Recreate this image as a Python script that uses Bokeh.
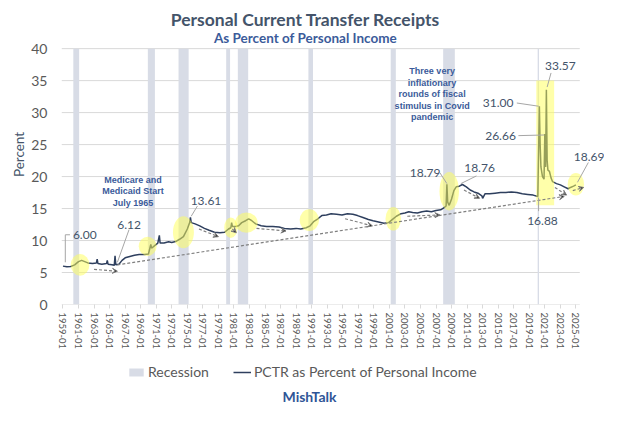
from bokeh.plotting import figure
from bokeh.models import Range1d, FixedTicker, Label, Arrow, VeeHead, Legend, LegendItem, Spacer
from bokeh.layouts import column, row
from bokeh.embed import file_html
from bokeh.resources import INLINE

# ---------------- data ----------------
dates = [1959.0, 1959.5, 1960.0, 1960.5, 1961.0, 1961.4, 1961.8, 1962.2, 1962.8, 1963.3,
         1963.4, 1963.5, 1964.0, 1964.6, 1964.7, 1964.8, 1965.3, 1965.6, 1965.7, 1965.8,
         1966.2, 1966.6, 1967.0, 1967.6, 1968.2, 1968.8, 1969.5, 1970.0, 1970.3, 1970.4,
         1970.8, 1971.2, 1971.4, 1971.5, 1972.0, 1972.6, 1973.0, 1973.6, 1974.0, 1974.5,
         1975.0, 1975.3, 1975.4, 1975.5, 1976.0, 1976.6, 1977.2, 1977.8, 1978.5, 1979.2,
         1979.8, 1980.3, 1980.6, 1980.7, 1980.8, 1981.2, 1981.6, 1982.0, 1982.5, 1982.9,
         1983.3, 1983.8, 1984.5, 1985.2, 1986.0, 1986.8, 1987.5, 1988.3, 1989.0, 1989.6,
         1990.3, 1990.8, 1991.3, 1991.8, 1992.3, 1992.9, 1993.5, 1994.2, 1994.9, 1995.6,
         1996.3, 1996.9, 1997.6, 1998.3, 1998.9, 1999.6, 2000.3, 2000.9, 2001.4, 2001.9,
         2002.5, 2003.0, 2003.5, 2004.0, 2004.6, 2005.2, 2005.8, 2006.4, 2007.0, 2007.6,
         2008.0, 2008.3, 2008.4, 2008.5, 2008.7, 2009.0, 2009.3, 2009.6, 2010.0, 2010.4,
         2010.9, 2011.4, 2011.9, 2012.4, 2012.9, 2013.0, 2013.3, 2013.9, 2014.6, 2015.3,
         2016.0, 2016.7, 2017.4, 2018.1, 2018.8, 2019.5, 2020.1, 2020.3, 2020.4, 2020.5,
         2020.7, 2020.9, 2021.0, 2021.1, 2021.2, 2021.3, 2021.4, 2021.6, 2021.8, 2022.0,
         2022.5, 2023.0, 2023.5, 2024.0, 2024.3, 2024.7, 2025.0]
pctr = [6.00, 5.90, 5.95, 6.20, 6.70, 6.90, 6.70, 6.50, 6.40, 6.50,
        7.10, 6.40, 6.30, 6.40, 6.90, 6.30, 6.20, 6.12, 7.60, 6.20,
        6.30, 6.90, 7.30, 7.50, 7.70, 7.80, 7.80, 7.90, 9.40, 8.80,
        9.20, 9.60, 10.80, 9.60, 9.60, 9.80, 9.70, 9.90, 10.20, 10.60,
        11.80, 12.80, 13.61, 12.80, 12.60, 12.30, 11.90, 11.60, 11.30, 11.20,
        11.30, 11.80, 12.00, 12.80, 12.20, 12.20, 12.30, 12.80, 13.10, 13.40,
        13.10, 12.60, 12.30, 12.20, 12.20, 12.10, 11.90, 11.80, 11.90, 11.80,
        12.00, 12.30, 13.00, 13.40, 13.90, 14.00, 14.20, 14.10, 14.00, 14.20,
        14.10, 13.90, 13.60, 13.30, 13.10, 12.90, 12.70, 12.80, 13.30, 13.80,
        14.20, 14.30, 14.50, 14.40, 14.30, 14.50, 14.60, 14.50, 14.70, 14.80,
        15.10, 15.40, 18.79, 16.00, 15.50, 16.50, 17.80, 18.40, 18.50, 18.76,
        18.40, 17.90, 17.60, 17.40, 17.00, 16.60, 17.30, 17.30, 17.40, 17.50,
        17.50, 17.60, 17.50, 17.30, 17.20, 17.10, 16.88, 31.00, 25.00, 21.50,
        20.00, 19.60, 26.66, 21.50, 33.57, 22.50, 21.00, 20.80, 19.80, 19.20,
        18.90, 18.70, 18.40, 18.10, 18.30, 18.50, 18.69]

rec_start = [1960.33, 1969.92, 1973.87, 1980.00, 1981.50, 1990.58, 2001.17, 2007.92, 2020.08]
rec_end = [1961.08, 1970.83, 1975.17, 1980.50, 1982.83, 1991.17, 2001.83, 2009.42, 2020.25]

tick_years = list(range(1959, 2026, 2))
tick_labels = [f"{y}-01" for y in tick_years]
y_ticks = [0, 5, 10, 15, 20, 25, 30, 35, 40]

# value call-outs: text, label position, leader line start/end
ann_text = ["6.00", "6.12", "13.61", "18.79", "18.76", "16.88", "26.66", "31.00", "33.57", "18.69"]
ann_tx = [1961.8, 1967.5, 1977.4, 2005.6, 2012.6, 2020.7, 2015.3, 2015.0, 2023.0, 2026.7]
ann_ty = [10.9, 12.4, 16.2, 20.6, 21.4, 13.1, 26.3, 31.5, 37.3, 23.1]
lead_x0 = [1959.3, 1967.5, 1976.3, 2007.5, 2012.2, 2020.2, 2017.6, 2017.4, 2021.8, 2026.6]
lead_y0 = [10.9, 11.7, 15.4, 20.6, 20.1, 14.6, 26.4, 31.5, 36.2, 22.2]
lead_x1 = [1959.3, 1966.0, 1975.5, 2008.4, 2010.2, 2020.2, 2020.9, 2020.2, 2021.3, 2025.2]
lead_y1 = [6.6, 6.6, 13.8, 18.9, 18.9, 16.7, 26.5, 31.0, 34.0, 19.1]

# dashed trend arrows
arr_x0 = [1966.0, 1963.0, 1976.5, 1980.8, 1983.9, 1995.3, 2003.3, 2010.6, 2022.3, 2024.6]
arr_y0 = [6.2, 5.5, 11.8, 11.8, 11.9, 13.4, 13.8, 17.9, 18.3, 17.8]
arr_x1 = [2023.5, 1966.0, 1979.0, 1981.3, 1987.7, 1998.8, 2007.5, 2012.6, 2023.8, 2026.0]
arr_y1 = [16.9, 5.2, 10.6, 11.2, 11.5, 12.3, 14.0, 16.6, 17.1, 18.3]

# yellow highlight blobs
hl_x = [1961.2, 1969.9, 1974.5, 1980.6, 1982.6, 1990.7, 2001.5, 2008.7, 2025.0]
hl_y = [6.2, 9.1, 11.3, 12.0, 12.8, 13.2, 13.4, 17.7, 18.8]
hl_w = [2.4, 2.3, 2.7, 1.7, 2.9, 2.5, 2.0, 2.5, 2.1]
hl_h = [3.4, 3.0, 5.0, 3.2, 3.2, 3.4, 3.7, 6.0, 3.5]
covid_box = [2019.9, 2022.2, 15.5, 35.0]

X_START, X_END, GRID_END = 1958.81, 2028.68, 2025.5

NAVY = "#2e3f5e"
TXT = "#44546a"
BLUE = "#3b5b9a"
GREY = "#595959"

p = figure(width=596, height=356, output_backend="svg", toolbar_location=None,
           x_range=Range1d(X_START, X_END), y_range=Range1d(0, 46.9),
           min_border_left=44, min_border_right=0, min_border_top=4, min_border_bottom=52,
           outline_line_color=None, background_fill_color="white", border_fill_color="white")
p.frame_align = False

# horizontal gridlines (ending at the last month, like the original)
p.segment(x0=[X_START] * len(y_ticks), x1=[GRID_END] * len(y_ticks), y0=y_ticks, y1=y_ticks,
          line_color="#d9d9d9", line_width=1)

rec = p.quad(left=rec_start, right=rec_end, bottom=0, top=40,
             fill_color="#d8dce6", line_color=None)
ln = p.line(dates, pctr, line_color=NAVY, line_width=1.5)

p.ellipse(x=hl_x, y=hl_y, width=hl_w, height=hl_h, fill_color="#ffff55",
          fill_alpha=0.5, line_color=None)
p.quad(left=[covid_box[0]], right=[covid_box[1]], bottom=[covid_box[2]], top=[covid_box[3]],
       fill_color="#ffff55", fill_alpha=0.5, line_color=None)

for i in range(len(arr_x0)):
    p.add_layout(Arrow(end=VeeHead(size=5, line_color="#7f7f7f", line_width=1),
                       x_start=arr_x0[i], y_start=arr_y0[i], x_end=arr_x1[i], y_end=arr_y1[i],
                       line_color="#7f7f7f", line_width=1.2, line_dash="3 2"))

for i in range(len(ann_text)):
    p.add_layout(Arrow(end=None, x_start=lead_x0[i], y_start=lead_y0[i],
                       x_end=lead_x1[i], y_end=lead_y1[i], line_color="#a6a6a6", line_width=1))
    p.add_layout(Label(x=ann_tx[i], y=ann_ty[i], text=ann_text[i], text_font="Lato",
                       text_font_size="12px", text_color=TXT, text_align="center",
                       text_baseline="middle"))
p.add_layout(Arrow(end=None, x_start=1959.9, y_start=10.9, x_end=1959.3, y_end=10.9,
                   line_color="#a6a6a6", line_width=1))

for txt, yy in zip(["Medicare and", "Medicaid Start", "July 1965"], [19.5, 17.7, 15.9]):
    p.add_layout(Label(x=1968.0, y=yy, text=txt, text_font="Liberation Sans",
                       text_font_style="bold", text_font_size="9px", text_color=BLUE,
                       text_align="center", text_baseline="middle"))
for txt, yy in zip(["Three very", "inflationary", "rounds of fiscal", "stimulus in Covid", "pandemic"],
                   [36.5, 34.7, 32.9, 31.1, 29.3]):
    p.add_layout(Label(x=2006.5, y=yy, text=txt, text_font="Liberation Sans",
                       text_font_style="bold", text_font_size="9px", text_color=BLUE,
                       text_align="center", text_baseline="middle"))

# titles
p.add_layout(Label(x=1990.2, y=44.6, text="Personal Current Transfer Receipts", text_font="Lato",
                   text_font_style="bold", text_font_size="17.5px", text_color=TXT,
                   text_align="center", text_baseline="middle"))
p.add_layout(Label(x=1990.2, y=41.6, text="As Percent of Personal Income", text_font="Lato",
                   text_font_style="bold", text_font_size="13.5px", text_color=BLUE,
                   text_align="center", text_baseline="middle"))

# axes
p.xaxis.ticker = FixedTicker(ticks=tick_years)
p.xaxis.major_label_overrides = {y: l for y, l in zip(tick_years, tick_labels)}
p.xaxis.major_label_orientation = "vertical"
p.xaxis.major_label_text_font = "Lato"
p.xaxis.major_label_text_font_size = "9.5px"
p.xaxis.major_label_text_color = GREY
p.xaxis.major_label_standoff = 4
p.xaxis.axis_line_color = None
p.xaxis.major_tick_line_color = "#d9d9d9"
p.xaxis.major_tick_out = 4
p.xaxis.major_tick_in = 0
p.xaxis.minor_tick_line_color = None

p.yaxis.ticker = FixedTicker(ticks=y_ticks)
p.yaxis.axis_label = "Percent"
p.yaxis.axis_label_text_font = "Lato"
p.yaxis.axis_label_text_font_style = "normal"
p.yaxis.axis_label_text_font_size = "13.5px"
p.yaxis.axis_label_text_color = TXT
p.yaxis.axis_label_standoff = 1
p.yaxis.major_label_text_font = "Lato"
p.yaxis.major_label_text_font_size = "14px"
p.yaxis.major_label_text_color = GREY
p.yaxis.major_label_standoff = 8
p.yaxis.axis_line_color = None
p.yaxis.major_tick_line_color = None
p.yaxis.minor_tick_line_color = None

p.xgrid.grid_line_color = None
p.ygrid.grid_line_color = None

# ---------------- legend + footer strip ----------------
f = figure(width=604, height=50, output_backend="svg", toolbar_location=None,
           x_range=Range1d(0, 604), y_range=Range1d(0, 50),
           x_axis_type=None, y_axis_type=None,
           min_border_left=0, min_border_right=0, min_border_top=0, min_border_bottom=0,
           outline_line_color=None, background_fill_color="white", border_fill_color="white")
f.frame_align = False
rec_key = f.quad(left=[-20], right=[-10], bottom=[-20], top=[-10],
                 fill_color="#d8dce6", line_color=None)
ln_key = f.line([-20, -10], [-20, -10], line_color=NAVY, line_width=1.5)
legend = Legend(items=[LegendItem(label="Recession", renderers=[rec_key]),
                       LegendItem(label="PCTR as Percent of Personal Income", renderers=[ln_key])],
                orientation="horizontal", location=(127, 26), padding=0, margin=0,
                spacing=24, glyph_width=18, glyph_height=10, label_height=14, label_standoff=3,
                label_text_font="Lato", label_text_font_size="14px", label_text_color=GREY,
                border_line_color=None, background_fill_alpha=0)
f.add_layout(legend, "center")
f.add_layout(Label(x=309, y=10, text="MishTalk", text_font="Lato",
                   text_font_style="bold", text_font_size="14px", text_color="#2f5597",
                   text_align="center", text_baseline="middle"))

layout = column(row(Spacer(width=8, height=356), p), f)
open("out.html", "w").write(file_html(layout, INLINE))
